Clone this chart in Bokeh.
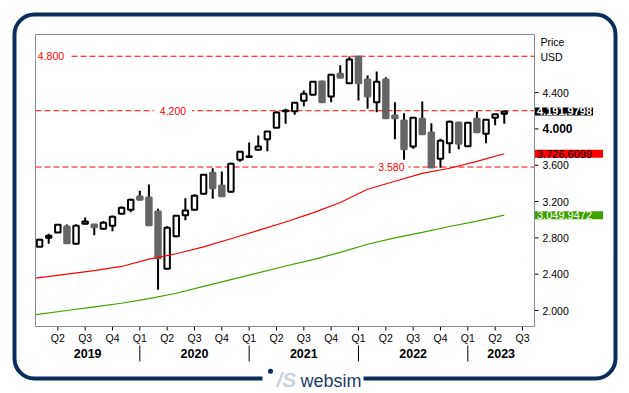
from bokeh.plotting import figure
from bokeh.models import ColumnDataSource, Label, BoxAnnotation, Range1d
from bokeh.core.properties import value
from bokeh.embed import file_html
from bokeh.resources import INLINE

# ---------------- data (monthly candles, month index 0 = Jan 2019) ----------------
month_idx = list(range(1, 53))   # Feb 2019 .. May 2023
opens  = [2702, 2800, 2859, 2925, 2735, 2955, 2947, 2900, 2933, 3065, 3109, 3256,
          3245, 3090, 2459, 2818, 3050, 3109, 3285, 3516, 3377, 3307, 3660, 3690,
          3770, 3887, 4012, 4195, 4195, 4310, 4376, 4522, 4357, 4607, 4503, 4797,
          4544, 4294, 4544, 4148, 4093, 3806, 4111, 3960, 3671, 3843, 4070, 3810,
          4111, 3946, 4122, 4166]
highs  = [2790, 2845, 2950, 2947, 2950, 3024, 2950, 2985, 3046, 3145, 3230, 3318,
          3388, 3120, 2928, 3045, 3237, 3281, 3501, 3567, 3531, 3627, 3752, 3850,
          3927, 3975, 4195, 4221, 4292, 4423, 4522, 4530, 4600, 4700, 4797, 4800,
          4588, 4632, 4570, 4294, 4173, 4122, 4302, 4063, 3891, 4093, 4075, 4076,
          4190, 4100, 4162, 4192]
lows   = [2700, 2735, 2855, 2738, 2730, 2950, 2829, 2890, 2873, 3060, 3083, 3215,
          2935, 2228, 2455, 2807, 2995, 3105, 3280, 3230, 3255, 3300, 3638, 3688,
          3768, 3754, 4010, 4056, 4155, 4250, 4372, 4294, 4294, 4560, 4500, 4313,
          4221, 4184, 4118, 3887, 3660, 3781, 3942, 3575, 3572, 3732, 3776, 3800,
          3964, 3842, 4040, 4056]
closes = [2779, 2823, 2944, 2741, 2933, 2980, 2917, 2966, 3032, 3131, 3219, 3219,
          2939, 2576, 2911, 3043, 3100, 3265, 3494, 3347, 3259, 3616, 3748, 3700,
          3806, 3971, 4181, 4203, 4287, 4387, 4519, 4294, 4596, 4563, 4764, 4503,
          4357, 4519, 4118, 4118, 3776, 4122, 3942, 3575, 3869, 4078, 3836, 4067,
          3964, 4100, 4162, 4191.9798]

ma_idx   = [0.6, 4, 7, 10, 13, 16, 19, 22, 25, 28, 31, 34, 37, 40, 43, 46, 49, 52]
ma_red   = [2356, 2400, 2440, 2485, 2565, 2625, 2700, 2790, 2882, 2975, 3075, 3190,
            3335, 3423, 3510, 3567, 3642, 3726.6099]
ma_green = [1954, 2000, 2040, 2080, 2130, 2190, 2265, 2340, 2415, 2490, 2560, 2640,
            2730, 2800, 2860, 2925, 2985, 3049.9472]

levels       = [4800, 4200, 3580]
level_labels = ["4.800", "4.200", "3.580"]

y_ticks       = [2000, 2400, 2800, 3200, 3600, 4000, 4400]
y_tick_labels = ["2.000", "2.400", "2.800", "3.200", "3.600", "4.000", "4.400"]
y_bold_tick   = 4000

q_ticks  = list(range(3, 55, 3))
q_labels = ["Q2", "Q3", "Q4", "Q1", "Q2", "Q3", "Q4", "Q1", "Q2", "Q3", "Q4",
            "Q1", "Q2", "Q3", "Q4", "Q1", "Q2", "Q3"]
years       = ["2019", "2020", "2021", "2022", "2023"]
year_starts = [0, 12, 24, 36, 48]

# ---------------- layout / styling ----------------
FONT = "Liberation Sans"
NAVY = "#0b2d5e"
RED = "#ff0000"
GREEN = "#3fa000"
DARK = "#666666"
W, H = 629, 393
CL, CR, CT, CB = 35, 534, 34, 326          # chart area (pixels)
x0, x1 = 0.55, 55.32                        # chart area data range
y0, y1 = 1823.8, 5039.6
kx = (CR - CL) / (x1 - x0)
ky = (CB - CT) / (y1 - y0)

def X(px):
    return x0 + (px - CL) / kx

def Y(py):
    return y0 + (CB - py) / ky

p = figure(width=W, height=H, x_range=Range1d(X(0), X(W)), y_range=Range1d(Y(H), Y(0)),
           output_backend="svg", toolbar_location=None,
           x_axis_location=None, y_axis_location=None, min_border=0,
           background_fill_color="white", border_fill_color="white")
p.outline_line_color = None
p.grid.visible = False

# reference levels (dashed)
p.segment(x0=[x0] * len(levels), x1=[x1] * len(levels), y0=levels, y1=levels,
          line_color=RED, line_width=1, line_dash="6 3")

# candles
inc = [c >= o for o, c in zip(opens, closes)]
src = ColumnDataSource(dict(
    x=month_idx, high=highs, low=lows,
    top=[max(o, c) for o, c in zip(opens, closes)],
    bottom=[min(o, c) for o, c in zip(opens, closes)],
    fill=["white" if u else DARK for u in inc],
    line=["black" if u else DARK for u in inc],
))
p.segment(x0="x", y0="low", x1="x", y1="high", source=src, line_color="black", line_width=2)
p.vbar(x="x", width=0.6, top="top", bottom="bottom", source=src,
       fill_color="fill", line_color="line", line_width=2)

# moving averages
p.line(ma_idx, ma_red, line_color=RED, line_width=1.2)
p.line(ma_idx, ma_green, line_color=GREEN, line_width=1.2)

# chart outline
p.add_layout(BoxAnnotation(left=x0, right=x1, bottom=y0, top=y1, fill_color=None,
                           fill_alpha=0, line_color="#8a8a96", line_alpha=1, line_width=1))

# level labels (white background cuts the dashed line)
level_pos = [(37.3, 2, 5), (159.3, 6, 6), (377.7, 4, 4)]
for lv, txt, (sx, pl, pr) in zip(levels, level_labels, level_pos):
    p.add_layout(Label(x=sx - pl, y=lv, x_units="screen", y_units="data", text=txt,
                       text_baseline="middle", text_align="left", text_color=RED,
                       text_font=FONT, text_font_size="10.5px",
                       background_fill_color="white",
                       padding=dict(left=pl, right=pr, top=0, bottom=0)))

# right price axis
n = len(y_ticks)
p.segment(x0=[x1] * n, x1=[X(CR + 4)] * n, y0=y_ticks, y1=y_ticks,
          line_color="black", line_width=1)
norm = [(t, l) for t, l in zip(y_ticks, y_tick_labels) if t != y_bold_tick]
p.text(x=[X(CR + 8)] * len(norm), y=[t for t, _ in norm], text=[l for _, l in norm],
       text_font=value(FONT), text_font_size="10.5px", text_color="black",
       text_baseline="middle", text_align="left")
p.text(x=[X(CR + 8)], y=[y_bold_tick], text=[y_tick_labels[y_ticks.index(y_bold_tick)]],
       text_font=value(FONT), text_font_size="12px", text_font_style="bold",
       text_color="black", text_baseline="middle", text_align="left")
p.add_layout(Label(x=540, y=H - 41.7, x_units="screen", y_units="screen", text="Price",
                   text_baseline="middle", text_font=FONT, text_font_size="10.5px",
                   text_color="black"))
p.add_layout(Label(x=540, y=H - 56.7, x_units="screen", y_units="screen", text="USD",
                   text_baseline="middle", text_font=FONT, text_font_size="10.5px",
                   text_color="black"))

# last-value boxes
def fmt(v):
    s = f"{v:,.4f}"
    return s.replace(",", "X").replace(".", ",").replace("X", ".")

last_items = [
    (closes[-1], "black", "white", "bold", 1),
    (ma_red[-1], RED, "black", "normal", 11),
    (ma_green[-1], GREEN, "white", "normal", 11),
]
for v, bg, fg, style, pr in last_items:
    p.add_layout(Label(x=534.5, y=v, x_units="screen", y_units="data", text=fmt(v),
                       text_baseline="middle", text_font=FONT, text_font_size="11px",
                       text_font_style=style, text_color=fg,
                       background_fill_color=bg,
                       padding=dict(left=2, right=pr, top=0, bottom=0)))

# bottom time axis: quarters
m = len(q_ticks)
p.segment(x0=q_ticks, x1=q_ticks, y0=[y0] * m, y1=[Y(CB + 4)] * m,
          line_color="black", line_width=1)
p.text(x=q_ticks, y=[Y(337)] * m, text=q_labels, text_font=value(FONT),
       text_font_size="10.5px", text_color="black", text_align="center",
       text_baseline="middle")

# bottom time axis: years
year_centers = []
for ys in year_starts:
    a = max(ys, x0)
    b = min(ys + 12, x1)
    year_centers.append((a + b) / 2)
year_sep = [ys for ys in year_starts if x0 < ys < x1]
p.segment(x0=year_sep, x1=year_sep, y0=[Y(345)] * len(year_sep), y1=[Y(361)] * len(year_sep),
          line_color="black", line_width=1)
p.text(x=year_centers, y=[Y(352.5)] * len(years), text=years, text_font=value(FONT),
       text_font_size="12.5px", text_font_style="bold", text_color="black",
       text_align="center", text_baseline="middle")

# outer navy rounded frame with logo gap
SC = dict(left_units="screen", right_units="screen", top_units="screen", bottom_units="screen")
p.add_layout(BoxAnnotation(left=14, right=615, top=H - 14, bottom=H - 378,
                           fill_color=None, fill_alpha=0, line_color=NAVY, line_alpha=1,
                           line_width=4, border_radius=20, **SC))
p.add_layout(BoxAnnotation(left=262, right=363, top=H - 364, bottom=0,
                           fill_color="white", fill_alpha=1, line_color=None, **SC))
p.add_layout(BoxAnnotation(left=267.5, right=272.5, top=H - 368.2, bottom=H - 373.2,
                           fill_color=NAVY, fill_alpha=1, line_color=None,
                           border_radius=2, **SC))
p.add_layout(Label(x=276, y=H - 379, x_units="screen", y_units="screen", text="/S",
                   text_font=FONT, text_font_size="21px", text_font_style="bold italic",
                   text_color="#c9d3df", text_baseline="middle"))
p.add_layout(Label(x=300, y=H - 380, x_units="screen", y_units="screen", text="websim",
                   text_font=FONT, text_font_size="18px", text_color="#1b3a68",
                   text_baseline="middle"))

open("out.html", "w").write(file_html(p, INLINE))
